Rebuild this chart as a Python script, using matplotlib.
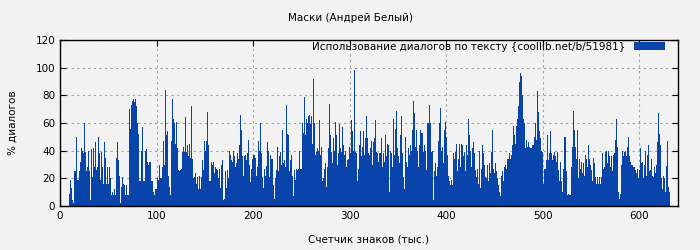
import matplotlib
matplotlib.use("Agg")
import matplotlib.pyplot as plt
import numpy as np

# chart text
title = "Маски (Андрей Белый)"
x_label = "Счетчик знаков (тыс.)"
y_label = "% диалогов"
legend_label = "Использование диалогов по тексту {coollib.net/b/51981}"

# first bar position (thousands of characters)
first_k = 10

# % of dialogue per 1000 characters
dialog_pct = [
    9, 19, 13, 4, 2, 25, 25, 50, 19, 19,
    25, 32, 42, 40, 38, 60, 39, 25, 28, 25,
    40, 25, 4, 41, 21, 42, 28, 46, 26, 28,
    50, 38, 19, 39, 28, 16, 46, 35, 16, 28,
    16, 28, 20, 8, 10, 8, 12, 8, 20, 35,
    46, 33, 22, 2, 14, 21, 16, 15, 8, 15,
    8, 8, 70, 56, 73, 76, 77, 75, 77, 72,
    60, 52, 18, 18, 40, 57, 18, 40, 18, 40,
    41, 32, 30, 32, 32, 18, 18, 10, 8, 12,
    12, 20, 19, 30, 20, 20, 28, 47, 30, 84,
    51, 54, 22, 14, 8, 47, 66, 77, 63, 60,
    45, 61, 42, 26, 25, 26, 27, 39, 43, 39,
    64, 39, 44, 36, 45, 35, 72, 34, 20, 21,
    24, 16, 21, 12, 22, 18, 12, 21, 33, 26,
    47, 40, 47, 68, 44, 18, 18, 32, 30, 32,
    24, 28, 27, 26, 20, 27, 13, 30, 33, 4,
    5, 25, 13, 26, 20, 32, 40, 37, 33, 32,
    40, 36, 28, 31, 38, 34, 44, 66, 55, 36,
    22, 36, 37, 33, 38, 48, 30, 17, 27, 34,
    37, 37, 35, 22, 14, 28, 47, 40, 60, 38,
    21, 13, 27, 22, 29, 46, 40, 21, 37, 34,
    34, 15, 5, 20, 26, 43, 25, 36, 39, 30,
    55, 31, 33, 33, 28, 73, 52, 51, 25, 33,
    37, 22, 7, 26, 19, 27, 26, 27, 40, 27,
    27, 60, 53, 79, 51, 63, 60, 65, 66, 59,
    65, 45, 60, 92, 60, 37, 39, 42, 40, 62,
    37, 43, 18, 20, 27, 31, 14, 28, 42, 74,
    51, 39, 31, 49, 40, 61, 51, 30, 38, 59,
    42, 45, 39, 57, 44, 37, 40, 28, 33, 34,
    43, 38, 62, 54, 40, 98, 39, 38, 18, 27,
    44, 54, 36, 43, 54, 37, 49, 65, 49, 38,
    20, 37, 42, 47, 30, 46, 49, 62, 39, 38,
    32, 38, 38, 49, 28, 38, 32, 51, 36, 45,
    44, 10, 40, 38, 28, 63, 37, 56, 69, 44,
    42, 36, 31, 51, 65, 38, 21, 12, 50, 32,
    28, 42, 37, 44, 40, 55, 76, 67, 43, 55,
    40, 28, 44, 55, 53, 53, 39, 44, 37, 40,
    26, 60, 60, 73, 60, 39, 40, 4, 25, 31,
    22, 28, 47, 60, 71, 40, 43, 31, 55, 61,
    50, 37, 22, 18, 15, 19, 15, 22, 38, 34,
    39, 45, 25, 34, 45, 28, 45, 44, 36, 39,
    25, 44, 37, 63, 51, 40, 28, 42, 46, 38,
    26, 21, 27, 16, 40, 13, 22, 27, 44, 38,
    30, 21, 20, 30, 18, 31, 24, 39, 55, 27,
    24, 31, 25, 20, 15, 10, 7, 22, 25, 18,
    28, 30, 27, 34, 34, 31, 38, 34, 37, 44,
    58, 51, 45, 58, 63, 72, 90, 96, 94, 80,
    63, 60, 42, 48, 43, 46, 43, 42, 42, 44,
    44, 50, 60, 48, 83, 63, 68, 54, 49, 40,
    39, 16, 27, 27, 33, 51, 33, 38, 54, 38,
    33, 37, 39, 36, 32, 39, 26, 18, 32, 18,
    10, 27, 50, 50, 34, 25, 8, 9, 8, 8,
    28, 43, 69, 55, 43, 34, 55, 20, 34, 27,
    32, 24, 31, 22, 37, 34, 28, 44, 34, 30,
    26, 18, 35, 18, 31, 21, 16, 21, 16, 21,
    16, 21, 38, 27, 28, 39, 40, 31, 40, 36,
    28, 36, 25, 37, 38, 48, 63, 43, 10, 5,
    9, 30, 30, 40, 36, 39, 40, 36, 43, 50,
    36, 32, 30, 30, 28, 28, 26, 24, 27, 20,
    26, 42, 31, 32, 20, 30, 40, 22, 37, 44,
    25, 30, 26, 34, 22, 21, 28, 24, 30, 46,
    67, 52, 44, 20, 12, 22, 20, 10, 29, 47,
    14, 10,
]

x_ticks = [0, 100, 200, 300, 400, 500, 600]
y_ticks = [0, 20, 40, 60, 80, 100, 120]

bg = "#f2f2f2"
bar_color = "#0844aa"

plt.rcParams["font.family"] = ["DejaVu Sans"]
plt.rcParams["font.size"] = 7.5

fig = plt.figure(figsize=(7, 2.5), dpi=100, facecolor=bg)
ax = fig.add_axes([60 / 700, 1 - 206 / 250, 618 / 700, 166 / 250])
ax.set_facecolor(bg)

xs = np.arange(first_k, first_k + len(dialog_pct))
ax.bar(xs, dialog_pct, width=1.0, color=bar_color, linewidth=0, label=legend_label, zorder=2)

ax.set_xlim(0, 640)
ax.set_ylim(0, 120)
ax.set_xticks(x_ticks)
ax.set_yticks(y_ticks)
ax.tick_params(direction="in", top=True, right=True, length=4, width=0.8, labelsize=7.5)
ax.grid(True, color="#a0a0a0", linestyle=(0, (2, 3)), linewidth=0.8, zorder=1)
for s in ax.spines.values():
    s.set_linewidth(1.0)

fig.text(0.5, 1 - 18 / 250, title, ha="center", va="center", fontsize=7.5)
ax.set_xlabel(x_label, fontsize=7.5, labelpad=10)
ax.set_ylabel(y_label, fontsize=7.5, labelpad=13)

ax.legend(loc="upper right", bbox_to_anchor=(605 / 618, 0.99), borderaxespad=0,
          borderpad=0, frameon=False, markerfirst=False, handlelength=3.0,
          handleheight=0.7, handletextpad=0.8, fontsize=7.5)

fig.savefig("out.png", dpi=100, facecolor=bg)
